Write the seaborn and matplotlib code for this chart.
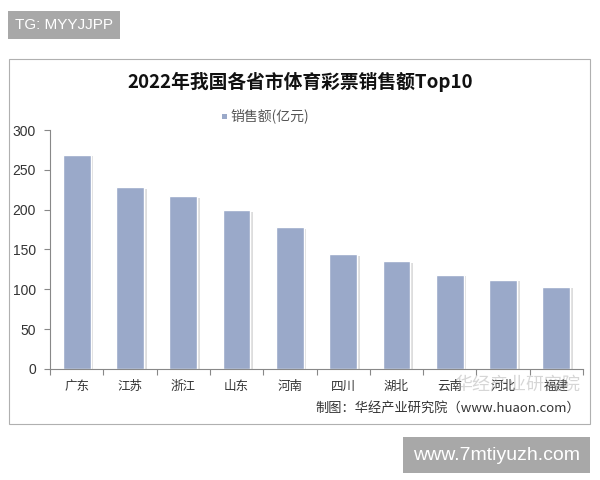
import numpy as np
import pandas as pd
import matplotlib
matplotlib.use("Agg")
import matplotlib.pyplot as plt
import matplotlib.patheffects as pe
from matplotlib.patches import Rectangle
import seaborn as sns

provinces = ["广东", "江苏", "浙江", "山东", "河南", "四川", "湖北", "云南", "河北", "福建"]
sales = [269, 228, 217, 199, 178, 144, 135, 118, 112, 103]
y_ticks = [0, 50, 100, 150, 200, 250, 300]

TITLE = "2022年我国各省市体育彩票销售额Top10"
LEGEND_LABEL = "销售额(亿元)"
SOURCE = "制图：华经产业研究院（www.huaon.com）"
BAR_COLOR = "#9aa9c9"

sns.set_theme(style="white")
plt.rcParams["font.family"] = ["Noto Sans CJK SC", "DejaVu Sans"]

df = pd.DataFrame({"province": provinces, "sales": sales})

fig = plt.figure(figsize=(6, 4.8), dpi=100)
fig.patch.set_facecolor("white")

# chart frame
fig.patches.append(Rectangle((9 / 600, 1 - 424 / 480), 581 / 600, 365 / 480,
                             transform=fig.transFigure, fill=False,
                             edgecolor="#b0b0b0", linewidth=0.8))

ax = fig.add_axes([50 / 600, 1 - 369 / 480, 533 / 600, 239 / 480])
sns.barplot(data=df, x="province", y="sales", color=BAR_COLOR, width=0.52,
            saturation=1, ax=ax)
for p in ax.patches:
    p.set_path_effects([pe.SimplePatchShadow(offset=(2, -1), alpha=0.2,
                                             shadow_rgbFace="#555555"),
                        pe.Normal()])

ax.set_xlim(-0.5, len(provinces) - 0.5)
ax.set_ylim(0, 300)
ax.set_yticks(y_ticks)
ax.set_xlabel("")
ax.set_ylabel("")
for s in ["top", "right"]:
    ax.spines[s].set_visible(False)
for s in ["left", "bottom"]:
    ax.spines[s].set_color("#888888")
    ax.spines[s].set_linewidth(0.8)
ax.set_xticks(np.arange(len(provinces) + 1) - 0.5, minor=True)
ax.tick_params(axis="x", which="major", length=0, labelsize=9, colors="#333333", pad=8)
ax.tick_params(axis="x", which="minor", length=4, width=0.8, color="#888888", direction="out", bottom=True)
ax.tick_params(axis="y", length=4, width=0.8, color="#888888", labelsize=10,
               colors="#333333", left=True, direction="out", pad=6)
for lbl in ax.get_yticklabels():
    lbl.set_color("#333333")
    lbl.set_family(["Liberation Sans", "DejaVu Sans"])

fig.text(0.5, 1 - 82 / 480, TITLE, ha="center", va="center", fontsize=13.5,
         fontweight="bold", color="#111111")

# legend
fig.patches.append(Rectangle((222 / 600, 1 - 119 / 480), 5 / 600, 5 / 480,
                             transform=fig.transFigure, facecolor=BAR_COLOR,
                             edgecolor="none"))
fig.text(230 / 600, 1 - 116 / 480, LEGEND_LABEL, ha="left", va="center",
         fontsize=10, color="#555555")

fig.text(580 / 600, 1 - 408 / 480, SOURCE, ha="right", va="center",
         fontsize=9.5, color="#333333")

# faint overlay watermark
fig.text(580 / 600, 1 - 385 / 480, "华经产业研究院", ha="right", va="center",
         fontsize=13, color="#999999", alpha=0.4)

# screenshot watermark boxes
fig.text(15 / 600, 1 - 25 / 480, "TG: MYYJJPP", ha="left", va="center",
         fontsize=11, color="white", family=["Liberation Sans"],
         bbox=dict(boxstyle="square,pad=0.45", facecolor="#a8a8a8", edgecolor="none"))
fig.text(580 / 600, 1 - 455 / 480, "www.7mtiyuzh.com", ha="right", va="center",
         fontsize=14, color="white", family=["Liberation Sans"],
         bbox=dict(boxstyle="square,pad=0.5", facecolor="#a8a8a8", edgecolor="none"))

fig.savefig("out.png", dpi=100)
